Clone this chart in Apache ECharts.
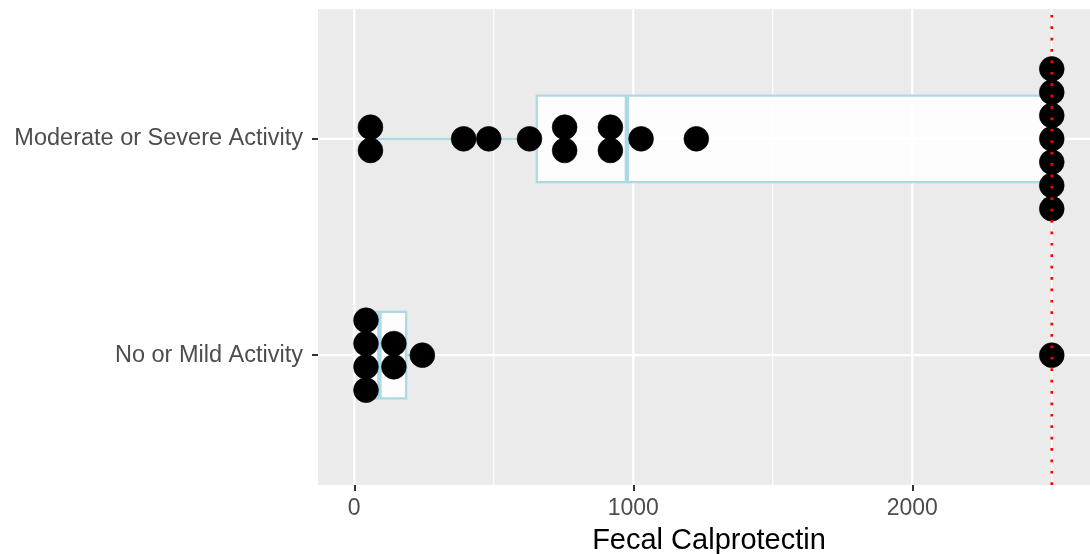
<!DOCTYPE html>
<html>
<head>
<meta charset="utf-8">
<script src="https://cdn.jsdelivr.net/npm/echarts@6/dist/echarts.min.js"></script>
<style>
  html, body { margin: 0; padding: 0; background: #ffffff; }
  #chart { width: 1090px; height: 554px; }
</style>
</head>
<body>
<div id="chart"></div>
<script>
// Disease activity groups, bottom to top on the y axis (positions 1 and 2)
const categories = ['No or Mild Activity', 'Moderate or Severe Activity'];

// Fecal calprotectin per patient (dot plot, binned values)
const mildValues = [42, 42, 42, 42, 142, 142, 244, 2500];
const severeValues = [58, 58, 392, 482, 628, 754, 754, 918, 918, 1028, 1226,
                      2500, 2500, 2500, 2500, 2500, 2500, 2500];

// Box plot statistics: [lower whisker, Q1, median, Q3, upper whisker]
const mildBox = [42, 42, 90, 186, 244];
const severeBox = [58, 654, 977, 2500, 2500];

// Axis breaks
const xMajorBreaks = [0, 1000, 2000];
const xMinorBreaks = [500, 1500, 2500];
const yBreaks = [1, 2];

// Upper detection limit reference line
const cutoff = 2500;

const FONT = '"Liberation Sans", Arial, Helvetica, sans-serif';
const BOX_COLOR = '#ADD8E6';

// Stack equal values vertically, centred on the group line
function stackDots(values, pos) {
  const counts = {};
  values.forEach(v => { counts[v] = (counts[v] || 0) + 1; });
  const seen = {};
  return values.map(v => {
    seen[v] = (seen[v] || 0);
    const item = [v, pos, seen[v], counts[v]];
    seen[v] += 1;
    return item;
  });
}

function vLines(values, width, z) {
  return {
    type: 'custom', silent: true, z: z, clip: false,
    data: values.map(v => [v, 1]),
    encode: { x: 0, y: 1 },
    renderItem(params, api) {
      const cs = params.coordSys;
      const x = api.coord([api.value(0), 1])[0];
      return { type: 'line', shape: { x1: x, y1: cs.y, x2: x, y2: cs.y + cs.height },
               style: { stroke: '#ffffff', lineWidth: width } };
    }
  };
}

function hLines(values, width, z) {
  return {
    type: 'custom', silent: true, z: z, clip: false,
    data: values.map(v => [0, v]),
    encode: { x: 0, y: 1 },
    renderItem(params, api) {
      const cs = params.coordSys;
      const y = api.coord([0, api.value(1)])[1];
      return { type: 'line', shape: { x1: cs.x, y1: y, x2: cs.x + cs.width, y2: y },
               style: { stroke: '#ffffff', lineWidth: width } };
    }
  };
}

const boxData = [[1].concat(mildBox), [2].concat(severeBox)];
const dotData = stackDots(mildValues, 1).concat(stackDots(severeValues, 2));

const chart = echarts.init(document.getElementById('chart'), null, { renderer: 'canvas' });

chart.setOption({
  animation: false,
  backgroundColor: '#ffffff',
  grid: {
    left: 318, right: 0, top: 9, bottom: 69,
    outerBoundsMode: 'none', containLabel: false,
    show: true, backgroundColor: '#EBEBEB', borderWidth: 0
  },
  xAxis: {
    type: 'value', min: -130, max: 2637,
    name: 'Fecal Calprotectin', nameLocation: 'middle', nameGap: 41,
    nameTextStyle: { color: '#000000', fontSize: 29, fontFamily: FONT, padding: [0, 0, 0, 10] },
    axisLine: { show: false, onZero: false },
    splitLine: { show: false },
    axisTick: { show: true, customValues: xMajorBreaks, length: 6,
                lineStyle: { color: '#333333', width: 2 } },
    axisLabel: { customValues: xMajorBreaks, margin: 12, color: '#4D4D4D',
                 fontSize: 23, fontFamily: FONT, formatter: v => String(v) }
  },
  yAxis: {
    type: 'value', min: 0.4, max: 2.6,
    axisLine: { show: false, onZero: false },
    splitLine: { show: false },
    axisTick: { show: true, customValues: yBreaks, length: 6,
                lineStyle: { color: '#333333', width: 2 } },
    axisLabel: { customValues: yBreaks, margin: 15, color: '#4D4D4D',
                 fontSize: 23.5, fontFamily: FONT, padding: [3, 0, 0, 0],
                 formatter: v => categories[Math.round(v) - 1] }
  },
  series: [
    vLines(xMinorBreaks, 1.1, 1),
    vLines(xMajorBreaks, 2.2, 1),
    hLines(yBreaks, 2.2, 1),
    {
      // box plots
      type: 'custom', z: 2, silent: true,
      data: boxData,
      encode: { y: 0, x: [1, 2, 3, 4, 5] },
      renderItem(params, api) {
        const y = api.value(0);
        const lo = api.coord([api.value(1), y]);
        const q1 = api.coord([api.value(2), y]);
        const md = api.coord([api.value(3), y]);
        const q3 = api.coord([api.value(4), y]);
        const hi = api.coord([api.value(5), y]);
        const h = api.size([0, 0.4])[1];
        const cy = q1[1];
        const line = { stroke: BOX_COLOR, lineWidth: 2.2 };
        return {
          type: 'group',
          children: [
            { type: 'line', shape: { x1: lo[0], y1: cy, x2: q1[0], y2: cy }, style: line },
            { type: 'line', shape: { x1: q3[0], y1: cy, x2: hi[0], y2: cy }, style: line },
            { type: 'rect', shape: { x: q1[0], y: cy - h / 2, width: q3[0] - q1[0], height: h },
              style: { fill: 'rgba(255,255,255,0.9)', stroke: BOX_COLOR, lineWidth: 2.2 } },
            { type: 'line', shape: { x1: md[0], y1: cy - h / 2, x2: md[0], y2: cy + h / 2 },
              style: { stroke: BOX_COLOR, lineWidth: 4.4 } }
          ]
        };
      }
    },
    {
      // stacked dots
      type: 'custom', z: 3, silent: true,
      data: dotData,
      encode: { x: 0, y: 1 },
      renderItem(params, api) {
        const p = api.coord([api.value(0), api.value(1)]);
        const i = api.value(2), n = api.value(3);
        const step = 23.3;
        return { type: 'circle',
                 shape: { cx: p[0], cy: p[1] + (i - (n - 1) / 2) * step, r: 12.4 },
                 style: { fill: '#000000', stroke: '#000000', lineWidth: 0.6 } };
      }
    },
    {
      // dotted reference line
      type: 'custom', z: 4, silent: true, clip: false,
      data: [[cutoff, 1]],
      encode: { x: 0, y: 1 },
      renderItem(params, api) {
        const cs = params.coordSys;
        const x = api.coord([api.value(0), 1])[0];
        return { type: 'line', shape: { x1: x, y1: cs.y + cs.height, x2: x, y2: cs.y },
                 style: { stroke: '#FF0000', lineWidth: 2.6, lineDash: [2.7, 8.7], lineCap: 'butt' } };
      }
    }
  ]
});
</script>
</body>
</html>
